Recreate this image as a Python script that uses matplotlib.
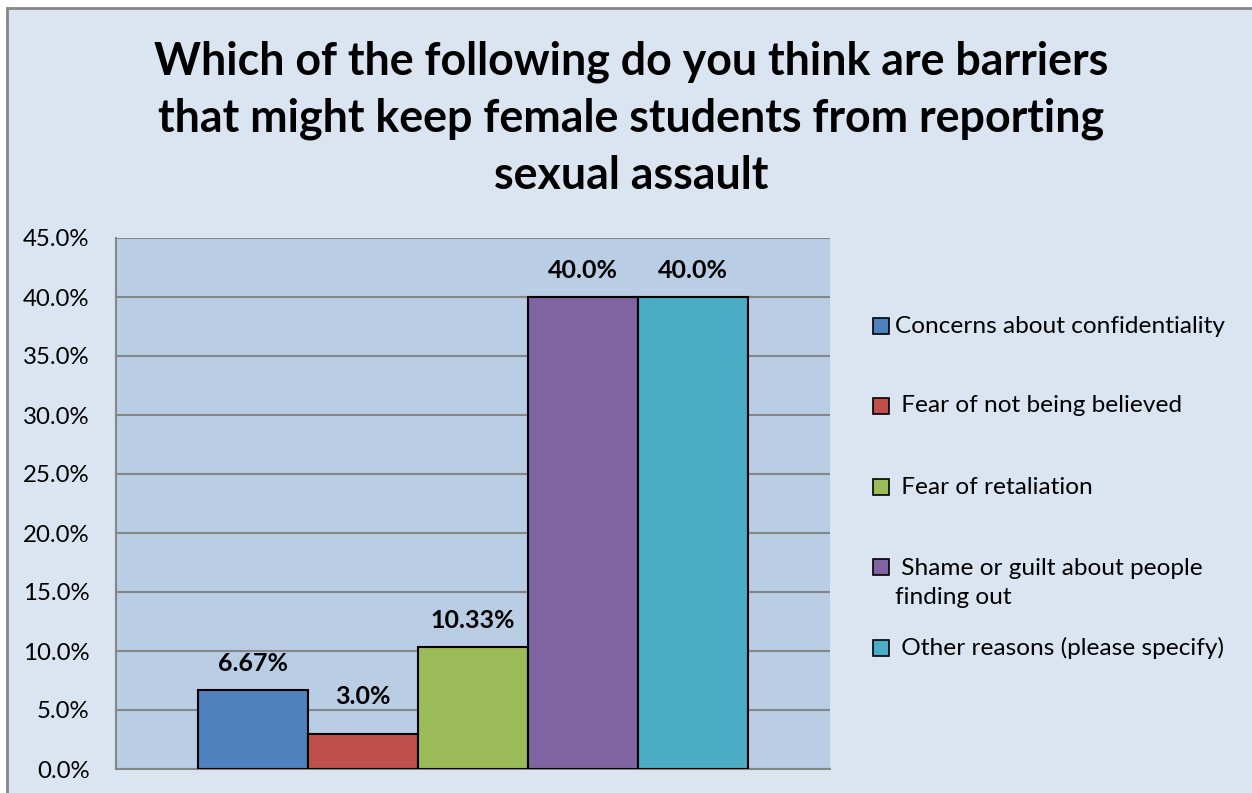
import matplotlib
matplotlib.use("Agg")
import matplotlib.pyplot as plt
from matplotlib.patches import Rectangle
from matplotlib.ticker import FuncFormatter, MultipleLocator

# chart data
categories = ["Concerns about confidentiality",
              " Fear of not being believed",
              " Fear of retaliation",
              " Shame or guilt about people\nfinding out",
              " Other reasons (please specify)"]
values = [6.67, 3.0, 10.33, 40.0, 40.0]
value_labels = ["6.67%", "3.0%", "10.33%", "40.0%", "40.0%"]
colors = ["#4F81BD", "#C0504D", "#9BBB59", "#8064A2", "#4BACC6"]
title = ("Which of the following do you think are barriers\n"
         "that might keep female students from reporting\n"
         "sexual assault")

plt.rcParams['font.family'] = ['Lato', 'DejaVu Sans']

W, H = 1252, 793
fig = plt.figure(figsize=(W / 100, H / 100), dpi=100, facecolor="white")

# outer chart frame (cut off at right and bottom like the screenshot)
fig.patches.append(Rectangle((6.5 / W, -0.05), 1.2, 1 - 8.5 / H + 0.05,
                             transform=fig.transFigure, facecolor="#DBE5F1",
                             edgecolor="#868686", linewidth=2, zorder=-5))

ax = fig.add_axes([116 / W, 1 - 769 / H, (830 - 116) / W, (769 - 238) / H])
ax.set_facecolor("#B9CDE5")

x = list(range(len(values)))
ax.bar(x, values, width=1.0, color=colors, edgecolor="black", linewidth=1.5, zorder=3)

# the 3.0% label sits a bit higher in the original
label_offsets = [19, 27, 19, 19, 19]
for xi, v, lab, off in zip(x, values, value_labels, label_offsets):
    ax.annotate(lab, (xi, v), xytext=(0, off), textcoords="offset points",
                ha="center", va="center", fontsize=18, fontweight="bold")

side = 0.745
ax.set_xlim(-0.5 - side, len(values) - 0.5 + side)
ax.set_ylim(0, 45)
ax.yaxis.set_major_locator(MultipleLocator(5))
ax.yaxis.set_major_formatter(FuncFormatter(lambda v, p: f"{v:.1f}%"))
ax.set_xticks([])
ax.tick_params(axis="y", length=0, pad=19, labelsize=17.3)
ax.grid(axis="y", color="#868686", linewidth=1.5, zorder=1)
for s in ["top", "right"]:
    ax.spines[s].set_visible(False)
for s in ["left", "bottom"]:
    ax.spines[s].set_color("#868686")
    ax.spines[s].set_linewidth(1.5)

fig.text(631 / W, 1 - 119 / H, title, ha="center", va="center",
         fontsize=32.2, fontweight="bold", linespacing=1.44)

# legend entries
leg_y = [326, 406, 487, 583, 648]
for lab, c, y in zip(categories, colors, leg_y):
    first_y = y if "\n" not in lab else 567
    fig.patches.append(Rectangle((873 / W, 1 - (first_y + 8) / H), 16 / W, 16 / H,
                                 transform=fig.transFigure, facecolor=c,
                                 edgecolor="black", linewidth=1.2))
    fig.text(895 / W, 1 - y / H, lab, ha="left", va="center", fontsize=17.6,
             linespacing=1.52)

fig.savefig("out.png", dpi=100, facecolor=fig.get_facecolor())
